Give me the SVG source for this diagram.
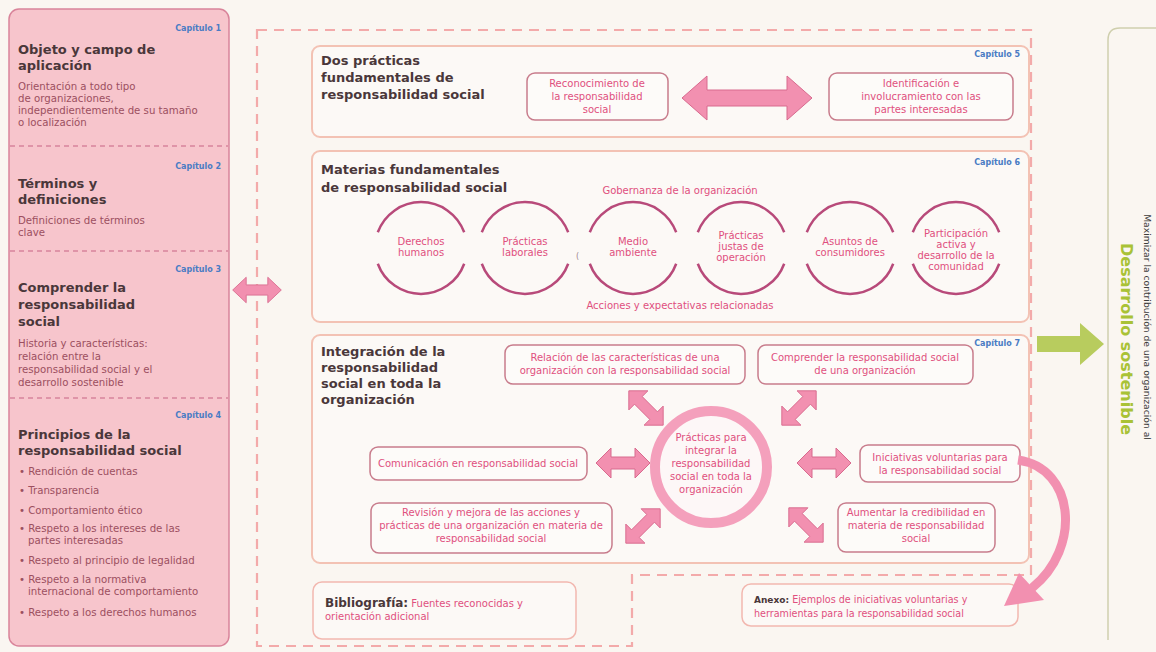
<svg xmlns="http://www.w3.org/2000/svg" width="1156" height="652" viewBox="0 0 1156 652">
<style>
.ttl{font-family:"DejaVu Sans",sans-serif;font-weight:bold;font-size:13px;fill:#4a373a}
.bd{font-family:"DejaVu Sans",sans-serif;font-size:10.2px;fill:#9c4f60}
.cap{font-family:"DejaVu Sans",sans-serif;font-weight:bold;font-size:8px;fill:#4a7cc4;text-anchor:end}
.pk{font-family:"DejaVu Sans",sans-serif;font-size:10px;fill:#e0507e;text-anchor:middle}
.pkl{font-family:"DejaVu Sans",sans-serif;font-size:10px;fill:#e0507e}
.box{fill:#fcf9f6;stroke:#f3c2b4;stroke-width:2}
.sbox{fill:#fdfbf9;stroke:#c87c8c;stroke-width:1.5}
.lbox{fill:#fcf9f6;stroke:#f2b8b0;stroke-width:1.5}
.arr{fill:#f290b0;stroke:#d86a8e;stroke-width:1;vector-effect:non-scaling-stroke}
.arc{fill:none;stroke:#b84a7a;stroke-width:2.5}
.dash{fill:none;stroke:#c86484;stroke-width:1.2;stroke-dasharray:5 4}
</style>
<defs>
<path id="dblBig" d="M-65,0 L-40,-22 L-40,-8 L40,-8 L40,-22 L65,0 L40,22 L40,8 L-40,8 L-40,22 Z"/>
<path id="dblMed" d="M-27,0 L-12,-15 L-12,-6 L12,-6 L12,-15 L27,0 L12,15 L12,6 L-12,6 L-12,15 Z"/>
<path id="ring" d="M-43.2,-15.7 A46,46 0 0 1 43.2,-15.7 M-43.2,15.7 A46,46 0 0 0 43.2,15.7"/>
</defs>
<rect width="1156" height="652" fill="#faf6f1"/>

<!-- outer dashed region -->
<path d="M257,30 H1031 V575 H632 V646 H257 Z" fill="none" stroke="#f3aaaa" stroke-width="2.2" stroke-dasharray="10 7"/>

<!-- left panel -->
<g id="panel-left">
<rect x="9" y="9" width="220" height="637" rx="10" fill="#f7c5cc" stroke="#d9849a" stroke-width="1.5"/>
<line x1="10" y1="146" x2="228" y2="146" class="dash"/>
<line x1="10" y1="251" x2="228" y2="251" class="dash"/>
<line x1="10" y1="398" x2="228" y2="398" class="dash"/>
</g>
<g id="cap1">
<text class="cap" x="221" y="31">Capítulo 1</text>
<text class="ttl" x="18" y="54">Objeto y campo de</text>
<text class="ttl" x="18" y="70">aplicación</text>
<text class="bd" x="18" y="90">Orientación a todo tipo</text>
<text class="bd" x="18" y="102">de organizaciones,</text>
<text class="bd" x="18" y="114">independientemente de su tamaño</text>
<text class="bd" x="18" y="126">o localización</text>
</g>
<g id="cap2">
<text class="cap" x="221" y="169">Capítulo 2</text>
<text class="ttl" x="18" y="188">Términos y</text>
<text class="ttl" x="18" y="204">definiciones</text>
<text class="bd" x="18" y="224">Definiciones de términos</text>
<text class="bd" x="18" y="236">clave</text>
</g>
<g id="cap3">
<text class="cap" x="221" y="272">Capítulo 3</text>
<text class="ttl" x="18" y="292">Comprender la</text>
<text class="ttl" x="18" y="309">responsabilidad</text>
<text class="ttl" x="18" y="326">social</text>
<text class="bd" x="18" y="347">Historia y características:</text>
<text class="bd" x="18" y="360">relación entre la</text>
<text class="bd" x="18" y="373">responsabilidad social y el</text>
<text class="bd" x="18" y="386">desarrollo sostenible</text>
</g>
<g id="cap4">
<text class="cap" x="221" y="418">Capítulo 4</text>
<text class="ttl" x="18" y="439">Principios de la</text>
<text class="ttl" x="18" y="455">responsabilidad social</text>
<text class="bd" x="19" y="475">• Rendición de cuentas</text>
<text class="bd" x="19" y="494">• Transparencia</text>
<text class="bd" x="19" y="514">• Comportamiento ético</text>
<text class="bd" x="19" y="532">• Respeto a los intereses de las</text>
<text class="bd" x="28" y="544">partes interesadas</text>
<text class="bd" x="19" y="564">• Respeto al principio de legalidad</text>
<text class="bd" x="19" y="583">• Respeto a la normativa</text>
<text class="bd" x="28" y="595">internacional de comportamiento</text>
<text class="bd" x="19" y="616">• Respeto a los derechos humanos</text>
</g>

<!-- Chapter 5 -->
<g id="cap5">
<rect class="box" x="312" y="46" width="717" height="91" rx="8"/>
<text class="cap" x="1020" y="57">Capítulo 5</text>
<text class="ttl" x="321" y="65">Dos prácticas</text>
<text class="ttl" x="321" y="82">fundamentales de</text>
<text class="ttl" x="321" y="99">responsabilidad social</text>
</g>
<g id="n-reconocimiento">
<rect class="sbox" x="527" y="73" width="141" height="47" rx="8"/>
<text class="pk" x="597" y="87">Reconocimiento de</text>
<text class="pk" x="597" y="100">la responsabilidad</text>
<text class="pk" x="597" y="113">social</text>
</g>
<g id="n-identificacion">
<rect class="sbox" x="829" y="73" width="184" height="47" rx="8"/>
<text class="pk" x="921" y="87">Identificación e</text>
<text class="pk" x="921" y="100">involucramiento con las</text>
<text class="pk" x="921" y="113">partes interesadas</text>
</g>

<!-- Chapter 6 -->
<g id="cap6">
<rect class="box" x="312" y="151" width="717" height="171" rx="8"/>
<text class="cap" x="1020" y="165">Capítulo 6</text>
<text class="ttl" x="321" y="174">Materias fundamentales</text>
<text class="ttl" x="321" y="192">de responsabilidad social</text>
<text class="pk" x="680" y="194">Gobernanza de la organización</text>
<text class="pk" x="680" y="309">Acciones y expectativas relacionadas</text>
<text class="pkl" x="576" y="259" style="fill:#a08890;font-size:8px">(</text>
</g>
<g id="m1"><use href="#ring" class="arc" transform="translate(421,248)"/>
<text class="pk" x="421" y="245">Derechos</text><text class="pk" x="421" y="256">humanos</text></g>
<g id="m2"><use href="#ring" class="arc" transform="translate(525,248)"/>
<text class="pk" x="525" y="245">Prácticas</text><text class="pk" x="525" y="256">laborales</text></g>
<g id="m3"><use href="#ring" class="arc" transform="translate(633,248)"/>
<text class="pk" x="633" y="245">Medio</text><text class="pk" x="633" y="256">ambiente</text></g>
<g id="m4"><use href="#ring" class="arc" transform="translate(741,248)"/>
<text class="pk" x="741" y="239">Prácticas</text><text class="pk" x="741" y="250">justas de</text><text class="pk" x="741" y="261">operación</text></g>
<g id="m5"><use href="#ring" class="arc" transform="translate(850,248)"/>
<text class="pk" x="850" y="245">Asuntos de</text><text class="pk" x="850" y="256">consumidores</text></g>
<g id="m6"><use href="#ring" class="arc" transform="translate(956,248)"/>
<text class="pk" x="956" y="237">Participación</text><text class="pk" x="956" y="248">activa y</text><text class="pk" x="956" y="259">desarrollo de la</text><text class="pk" x="956" y="270">comunidad</text></g>

<!-- Chapter 7 -->
<g id="cap7">
<rect class="box" x="312" y="335" width="717" height="228" rx="8"/>
<text class="cap" x="1020" y="346">Capítulo 7</text>
<text class="ttl" x="321" y="356">Integración de la</text>
<text class="ttl" x="321" y="372">responsabilidad</text>
<text class="ttl" x="321" y="388">social en toda la</text>
<text class="ttl" x="321" y="404">organización</text>
</g>
<g id="n-relacion">
<rect class="sbox" x="505" y="345" width="240" height="39" rx="8"/>
<text class="pk" x="625" y="361">Relación de las características de una</text>
<text class="pk" x="625" y="374">organización con la responsabilidad social</text>
</g>
<g id="n-comprender">
<rect class="sbox" x="758" y="345" width="215" height="39" rx="8"/>
<text class="pk" x="865" y="361">Comprender la responsabilidad social</text>
<text class="pk" x="865" y="374">de una organización</text>
</g>
<g id="n-comunicacion">
<rect class="sbox" x="370" y="447" width="217" height="33" rx="8"/>
<text class="pk" x="478" y="467">Comunicación en responsabilidad social</text>
</g>
<g id="n-revision">
<rect class="sbox" x="371" y="503" width="241" height="50" rx="8"/>
<text class="pk" x="491" y="516">Revisión y mejora de las acciones y</text>
<text class="pk" x="491" y="529">prácticas de una organización en materia de</text>
<text class="pk" x="491" y="542">responsabilidad social</text>
</g>
<g id="n-iniciativas">
<rect class="sbox" x="860" y="445" width="160" height="37" rx="8"/>
<text class="pk" x="940" y="461">Iniciativas voluntarias para</text>
<text class="pk" x="940" y="474">la responsabilidad social</text>
</g>
<g id="n-aumentar">
<rect class="sbox" x="838" y="503" width="157" height="49" rx="8"/>
<text class="pk" x="916" y="516">Aumentar la credibilidad en</text>
<text class="pk" x="916" y="529">materia de responsabilidad</text>
<text class="pk" x="916" y="542">social</text>
</g>
<g id="n-practicas">
<circle cx="711" cy="467" r="56" fill="#fdf7f7" stroke="#f4a0bc" stroke-width="10"/>
<text class="pk" x="711" y="441">Prácticas para</text>
<text class="pk" x="711" y="454">integrar la</text>
<text class="pk" x="711" y="467">responsabilidad</text>
<text class="pk" x="711" y="480">social en toda la</text>
<text class="pk" x="711" y="493">organización</text>
</g>

<!-- Bibliography and annex -->
<g id="n-bibliografia">
<rect class="lbox" x="313" y="582" width="263" height="57" rx="9"/>
<text x="325" y="607"><tspan style="font-family:'DejaVu Sans',sans-serif;font-weight:bold;font-size:12px;fill:#4a373a">Bibliografía:</tspan><tspan class="pkl"> Fuentes reconocidas y</tspan></text>
<text class="pkl" x="325" y="620">orientación adicional</text>
</g>
<g id="n-anexo">
<rect class="lbox" x="742" y="584" width="276" height="42" rx="9"/>
<text x="754" y="603"><tspan style="font-family:'DejaVu Sans',sans-serif;font-weight:bold;font-size:9px;fill:#4a373a">Anexo:</tspan><tspan class="pkl" style="font-size:9.6px"> Ejemplos de iniciativas voluntarias y</tspan></text>
<text class="pkl" x="754" y="617" style="font-size:9.6px">herramientas para la responsabilidad social</text>
</g>

<!-- right side -->
<g id="n-desarrollo">
<path d="M1156,28 H1120 Q1108,28 1108,40 V640" fill="none" stroke="#cfcfae" stroke-width="1.5"/>
<text transform="translate(1144,327) rotate(90)" text-anchor="middle" style="font-family:'DejaVu Sans',sans-serif;font-size:9.2px;fill:#3c3c3c">Maximizar la contribución de una organización al</text>
<text transform="translate(1121,339) rotate(90)" text-anchor="middle" style="font-family:'DejaVu Sans',sans-serif;font-weight:bold;font-size:16px;fill:#a9c236">Desarrollo sostenible</text>
</g>

<!-- connectors -->
<g id="connectors">
<use href="#dblBig" class="arr" transform="translate(747,98)"/>
<use href="#dblMed" class="arr" transform="translate(257,290) scale(0.9,0.85)"/>
<use href="#dblMed" class="arr" transform="translate(623,463)"/>
<use href="#dblMed" class="arr" transform="translate(824,463)"/>
<use href="#dblMed" class="arr" transform="translate(646,408) rotate(45) scale(0.9)"/>
<use href="#dblMed" class="arr" transform="translate(799,408) rotate(-45) scale(0.9)"/>
<use href="#dblMed" class="arr" transform="translate(643,526) rotate(-45) scale(0.9)"/>
<use href="#dblMed" class="arr" transform="translate(806,525) rotate(45) scale(0.9)"/>
<path d="M1018,460 C1075,468 1082,548 1032,588" fill="none" stroke="#f290b0" stroke-width="9"/>
<polygon points="1004,606 1019,573 1044,600" fill="#f290b0"/>
<polygon points="1037,336 1080,336 1080,323 1104,344 1080,365 1080,352 1037,352" fill="#b8cc5e"/>
</g>
</svg>
